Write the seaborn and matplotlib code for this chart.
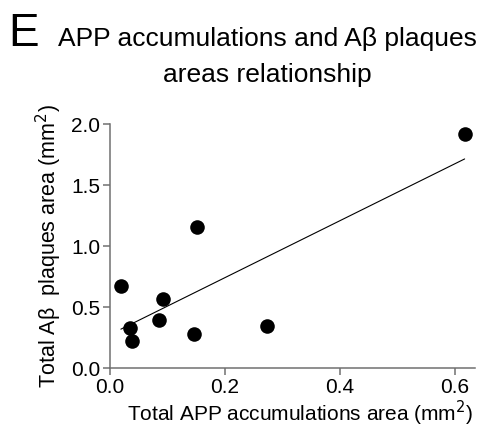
import numpy as np
import pandas as pd
import matplotlib
matplotlib.use("Agg")
import matplotlib.pyplot as plt
import seaborn as sns

# values
app_area = [0.019, 0.034, 0.039, 0.085, 0.093, 0.146, 0.151, 0.274, 0.617]
abeta_area = [0.675, 0.325, 0.220, 0.393, 0.565, 0.279, 1.153, 0.344, 1.918]
x_ticks = [0.0, 0.2, 0.4, 0.6]
y_ticks = [0.0, 0.5, 1.0, 1.5, 2.0]

df = pd.DataFrame({"app": app_area, "abeta": abeta_area})

sns.set_style("ticks")
plt.rcParams['font.family'] = ['Liberation Sans', 'DejaVu Sans']
plt.rcParams['text.color'] = 'black'
plt.rcParams['axes.labelcolor'] = 'black'

fig = plt.figure(figsize=(4.83, 4.34), dpi=100)
ax = fig.add_axes([0.2277, 0.152, 0.7557, 0.562])

sns.regplot(data=df, x="app", y="abeta", ci=None, ax=ax,
            scatter_kws={"s": 110, "color": "black", "alpha": 1, "clip_on": False,
                         "zorder": 3, "linewidths": 0},
            line_kws={"color": "black", "linewidth": 0.8})

ax.set_xlim(0, 0.635)
ax.set_ylim(0, 2.0)
ax.set_xticks(x_ticks)
ax.set_yticks(y_ticks)
ax.set_xticklabels([f"{v:.1f}" for v in x_ticks])
ax.set_yticklabels([f"{v:.1f}" for v in y_ticks])
sns.despine(ax=ax)
for s in ["left", "bottom"]:
    ax.spines[s].set_color("#707070")
    ax.spines[s].set_linewidth(1.1)
ax.tick_params(axis="both", direction="out", length=5, width=1.1, color="#707070",
               labelsize=15, labelcolor="black", pad=2)

ax.set_xlabel("Total APP accumulations area (mm$^2$)", fontsize=15, labelpad=-1, color="black")
ax.set_ylabel("Total A\u03b2  plaques area (mm$^2$)", fontsize=15.5, labelpad=5, color="black")
ax.xaxis.set_label_coords(0.52, -0.125)

fig.text(0.018, 0.972, "E", fontsize=33, va="top", ha="left", color="black")
fig.text(0.553, 0.938, "APP accumulations and A\u03b2 plaques\nareas relationship",
         fontsize=19, va="top", ha="center", linespacing=1.65, color="black")

fig.savefig("out.png", dpi=100)
